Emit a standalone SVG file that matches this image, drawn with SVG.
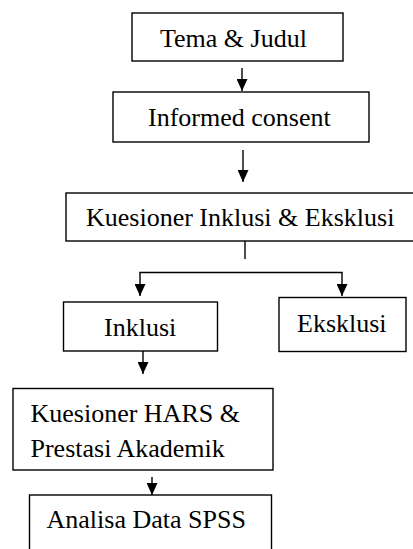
<svg xmlns="http://www.w3.org/2000/svg" width="413" height="549" viewBox="0 0 413 549">
  <style>
    .box { fill: #ffffff; stroke: #000000; stroke-width: 1.4; }
    .lbl { font-family: "Liberation Serif", "Times New Roman", serif; font-size: 26px; fill: #000000; }
    .ln { fill: none; stroke: #000000; stroke-width: 1.4; }
    .arr { marker-end: url(#ah); }
  </style>
  <defs>
    <marker id="ah" viewBox="0 0 12 11" refX="12" refY="5.5" markerWidth="12" markerHeight="11" markerUnits="userSpaceOnUse" orient="auto">
      <path d="M0,0 L12,5.5 L0,11 z" fill="#000000"/>
    </marker>
  </defs>
  <rect width="413" height="549" fill="#ffffff"/>

  <g id="connectors">
    <line class="ln arr" x1="242" y1="68" x2="242" y2="91"/>
    <line class="ln arr" x1="243" y1="150" x2="243" y2="182"/>
    <line class="ln" x1="245" y1="241" x2="245" y2="259"/>
    <line class="ln" x1="139.3" y1="272.5" x2="342.7" y2="272.5"/>
    <line class="ln arr" x1="140" y1="272.5" x2="140" y2="296"/>
    <line class="ln arr" x1="342" y1="272.5" x2="342" y2="296"/>
    <line class="ln arr" x1="143" y1="351" x2="143" y2="374"/>
    <line class="ln arr" x1="152" y1="477" x2="152" y2="495"/>
  </g>

  <g id="tema">
    <rect class="box" x="132" y="13" width="211" height="48"/>
    <text class="lbl" x="160" y="47">Tema &amp; Judul</text>
  </g>
  <g id="informed">
    <rect class="box" x="113" y="92" width="256" height="50"/>
    <text class="lbl" x="148" y="126">Informed consent</text>
  </g>
  <g id="kuesioner-ie">
    <rect class="box" x="66" y="193" width="352" height="48"/>
    <text class="lbl" x="86" y="225.5">Kuesioner Inklusi &amp; Eksklusi</text>
  </g>
  <g id="inklusi">
    <rect class="box" x="63.5" y="302" width="154" height="49"/>
    <text class="lbl" x="104" y="335.5">Inklusi</text>
  </g>
  <g id="eksklusi">
    <rect class="box" x="279" y="297.5" width="127" height="54"/>
    <text class="lbl" x="297" y="331.5">Eksklusi</text>
  </g>
  <g id="hars">
    <rect class="box" x="13" y="388.5" width="260" height="81.5"/>
    <text class="lbl" x="30.5" y="421.5">Kuesioner HARS &amp;</text>
    <text class="lbl" x="30.5" y="456.5">Prestasi Akademik</text>
  </g>
  <g id="analisa">
    <rect class="box" x="29.5" y="495" width="242" height="80"/>
    <text class="lbl" x="46.5" y="528">Analisa Data SPSS</text>
  </g>
</svg>
